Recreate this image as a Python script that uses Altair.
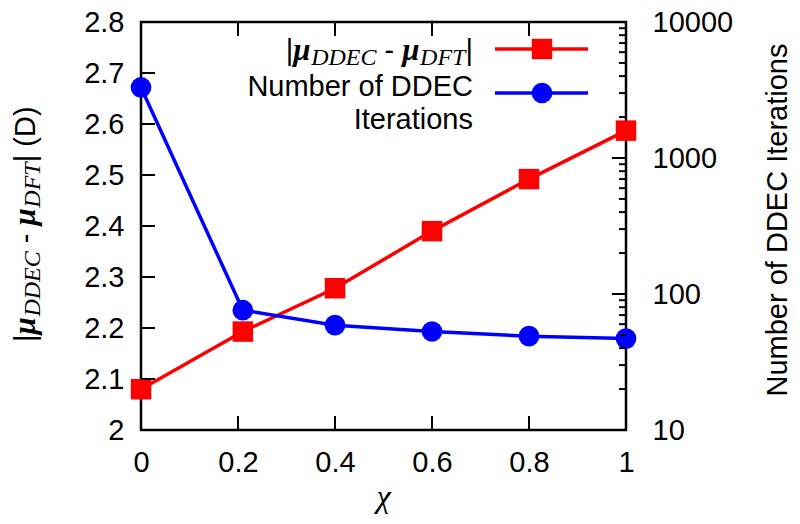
import altair as alt
import pandas as pd

# ---------------- data ----------------
x_vals = [0.0, 0.21, 0.4, 0.6, 0.8, 1.0]
dipole_err = [2.08, 2.193, 2.278, 2.39, 2.492, 2.587]
ddec_iters = [3300, 76, 59, 53, 49, 47]

x_ticks = [0, 0.2, 0.4, 0.6, 0.8, 1.0]
left_ticks = [2.0, 2.1, 2.2, 2.3, 2.4, 2.5, 2.6, 2.7, 2.8]
right_major = [10, 100, 1000, 10000]
right_minor = [20, 30, 40, 50, 60, 70, 80, 90,
               200, 300, 400, 500, 600, 700, 800, 900,
               2000, 3000, 4000, 5000, 6000, 7000, 8000, 9000]

legend_row2 = ["Number of DDEC", "Iterations"]
right_title = ["Number of DDEC Iterations"]
x_title = ["\u03c7"]
# formula pieces: |mu_DDEC - mu_DFT|
formula_pieces = ["|", "\u03bc", "DDEC", "-", "\u03bc", "DFT", "|"]
left_title_tail = ["(D)"]

# ---------------- layout / style ----------------
W, H = 485, 408
TOP = 14           # plot top is at TOP + 8 on the page
SANS = "Liberation Sans"
SERIF = "Liberation Serif"
RED = "#ff0000"
BLUE = "#0000ff"
LAB = 29
TICK_MAJ = 14
TICK_MIN = 7

def py(page_y):
    """page y -> plot y"""
    return page_y - (TOP + 8)

xs = alt.Scale(domain=[0, 1], nice=False, zero=False)
yl = alt.Scale(domain=[2, 2.8], nice=False, zero=False)
yr = alt.Scale(type="log", domain=[10, 10000], nice=False)

df = pd.DataFrame({"x": x_vals, "err": dipole_err, "iters": ddec_iters})
one = pd.DataFrame({"k": [0]})

common_axis = dict(ticks=False, domain=False, grid=False, labelFont=SANS,
                   labelFontSize=LAB, labelColor="black", labelFlush=False,
                   labelOverlap=False, title=None)

x_axis = alt.Axis(values=x_ticks, format="~g", orient="bottom", labelPadding=18, **common_axis)
left_axis = alt.Axis(values=left_ticks, format="~g", orient="left", labelPadding=17, **common_axis)
right_axis = alt.Axis(values=right_major, format="d", orient="right", labelPadding=26, **common_axis)

# red series (left axis)
red_line = alt.Chart(df).mark_line(color=RED, strokeWidth=3.5).encode(
    x=alt.X("x:Q", scale=xs, axis=x_axis),
    y=alt.Y("err:Q", scale=yl, axis=left_axis),
)
red_pts = alt.Chart(df).mark_point(shape="square", filled=True, size=420, color=RED, opacity=1).encode(
    x=alt.X("x:Q", scale=xs, axis=x_axis),
    y=alt.Y("err:Q", scale=yl, axis=left_axis),
)
lt_df = pd.DataFrame({"v": left_ticks})
left_tick_marks = alt.Chart(lt_df).mark_rule(color="black", strokeWidth=2).encode(
    y=alt.Y("v:Q", scale=yl, axis=left_axis), x=alt.value(0), x2=alt.value(TICK_MAJ)
)
xt_df = pd.DataFrame({"v": x_ticks})
bottom_ticks = alt.Chart(xt_df).mark_rule(color="black", strokeWidth=2).encode(
    x=alt.X("v:Q", scale=xs, axis=x_axis), y=alt.value(H), y2=alt.value(H - TICK_MAJ)
)
top_ticks = alt.Chart(xt_df).mark_rule(color="black", strokeWidth=2).encode(
    x=alt.X("v:Q", scale=xs, axis=x_axis), y=alt.value(0), y2=alt.value(TICK_MAJ)
)
red_group = alt.layer(red_line, red_pts, left_tick_marks, bottom_ticks, top_ticks)

# blue series (right log axis)
blue_line = alt.Chart(df).mark_line(color=BLUE, strokeWidth=3.5).encode(
    x=alt.X("x:Q", scale=xs, axis=x_axis),
    y=alt.Y("iters:Q", scale=yr, axis=right_axis),
)
blue_pts = alt.Chart(df).mark_circle(size=430, color=BLUE, opacity=1).encode(
    x=alt.X("x:Q", scale=xs, axis=x_axis),
    y=alt.Y("iters:Q", scale=yr, axis=right_axis),
)
rmaj_df = pd.DataFrame({"v": right_major})
rmin_df = pd.DataFrame({"v": right_minor})
rmaj_marks = alt.Chart(rmaj_df).mark_rule(color="black", strokeWidth=2).encode(
    y=alt.Y("v:Q", scale=yr, axis=right_axis), x=alt.value(W - TICK_MAJ), x2=alt.value(W)
)
rmin_marks = alt.Chart(rmin_df).mark_rule(color="black", strokeWidth=2).encode(
    y=alt.Y("v:Q", scale=yr, axis=right_axis), x=alt.value(W - TICK_MIN), x2=alt.value(W)
)
blue_group = alt.layer(blue_line, blue_pts, rmaj_marks, rmin_marks)

# ---------------- rich-text formula pieces ----------------
ARIAL = {"|": 0.26, " ": 0.278, "-": 0.333, "(": 0.333, ")": 0.333, "D": 0.722}
TIMES_I = {"D": 0.722, "E": 0.611, "C": 0.667, "F": 0.611, "T": 0.556}
MU_W = 0.576
MAIN = 29
MU = 31
SUB = 24
SUB_SHIFT = 5

def piece_style(i):
    t = formula_pieces[i]
    if t == "\u03bc":
        return dict(font=SERIF, fontSize=MU, fontStyle="italic", fontWeight="bold"), MU_W * MU, 0
    if t in ("DDEC", "DFT"):
        return dict(font=SERIF, fontSize=SUB, fontStyle="italic", fontWeight="normal"), \
            sum(TIMES_I[c] for c in t) * SUB, SUB_SHIFT
    w = sum(ARIAL[c] for c in t) * MAIN
    if t == "-":
        w += 2 * ARIAL[" "] * MAIN
    return dict(font=SANS, fontSize=MAIN, fontStyle="normal", fontWeight="normal"), w, 0

def formula_layers(x0, y0, angle, extra_tail):
    layers = []
    off = 0.0
    for i, t in enumerate(formula_pieces):
        st, w, sh = piece_style(i)
        lead = ARIAL[" "] * MAIN if t == "-" else 0
        d = pd.DataFrame({"t": [t]})
        layers.append(
            alt.Chart(d).mark_text(align="left", baseline="alphabetic", angle=angle,
                                   dx=off + lead, dy=sh, color="black", **st)
            .encode(text="t:N", x=alt.value(x0), y=alt.value(y0))
        )
        off += w
    if extra_tail:
        off += ARIAL[" "] * MAIN
        d = pd.DataFrame({"t": left_title_tail})
        layers.append(
            alt.Chart(d).mark_text(align="left", baseline="alphabetic", angle=angle,
                                   dx=off, dy=0, color="black", font=SANS, fontSize=MAIN)
            .encode(text="t:N", x=alt.value(x0), y=alt.value(y0))
        )
    return layers, off

_tot = 0.0
for _i in range(len(formula_pieces)):
    _tot += piece_style(_i)[1]

LEG_RIGHT = 332
legend_formula, _ = formula_layers(LEG_RIGHT - _tot, py(60), 0, False)
left_title, _ = formula_layers(-106, py(342), 270, True)

# legend samples
leg_y1, leg_y2 = py(49), py(93)
leg_x1, leg_x2, leg_xm = 354, 447, 401
leg_red_line = alt.Chart(one).mark_rule(color=RED, strokeWidth=3.5).encode(
    x=alt.value(leg_x1), x2=alt.value(leg_x2), y=alt.value(leg_y1))
leg_red_pt = alt.Chart(one).mark_point(shape="square", filled=True, size=420, color=RED, opacity=1).encode(
    x=alt.value(leg_xm), y=alt.value(leg_y1))
leg_blue_line = alt.Chart(one).mark_rule(color=BLUE, strokeWidth=3.5).encode(
    x=alt.value(leg_x1), x2=alt.value(leg_x2), y=alt.value(leg_y2))
leg_blue_pt = alt.Chart(one).mark_circle(size=430, color=BLUE, opacity=1).encode(
    x=alt.value(leg_xm), y=alt.value(leg_y2))
leg_txt2 = alt.Chart(pd.DataFrame({"t": [legend_row2[0]]})).mark_text(
    align="right", baseline="alphabetic", font=SANS, fontSize=MAIN, color="black").encode(
    text="t:N", x=alt.value(LEG_RIGHT), y=alt.value(py(96)))
leg_txt3 = alt.Chart(pd.DataFrame({"t": [legend_row2[1]]})).mark_text(
    align="right", baseline="alphabetic", font=SANS, fontSize=MAIN, color="black").encode(
    text="t:N", x=alt.value(LEG_RIGHT), y=alt.value(py(129)))

# axis titles as text
rt = alt.Chart(pd.DataFrame({"t": right_title})).mark_text(
    align="center", baseline="alphabetic", angle=270, font=SANS, fontSize=MAIN, color="black").encode(
    text="t:N", x=alt.value(W + 161), y=alt.value(py(220)))
xt = alt.Chart(pd.DataFrame({"t": x_title})).mark_text(
    align="center", baseline="alphabetic", font=SERIF, fontStyle="italic", fontSize=32, color="black").encode(
    text="t:N", x=alt.value(W / 2), y=alt.value(py(507)))

chart = alt.layer(
    red_group, blue_group,
    leg_red_line, leg_red_pt, leg_blue_line, leg_blue_pt, leg_txt2, leg_txt3,
    rt, xt, *legend_formula, *left_title,
).resolve_scale(y="independent").properties(
    width=W, height=H,
    autosize=alt.AutoSizeParams(type="none"),
    padding={"left": 133, "top": TOP, "right": 166, "bottom": 86},
    background="white",
).configure_view(stroke="black", strokeWidth=2.5)

chart.save("out.html", embed_options={"renderer": "svg", "actions": False})
